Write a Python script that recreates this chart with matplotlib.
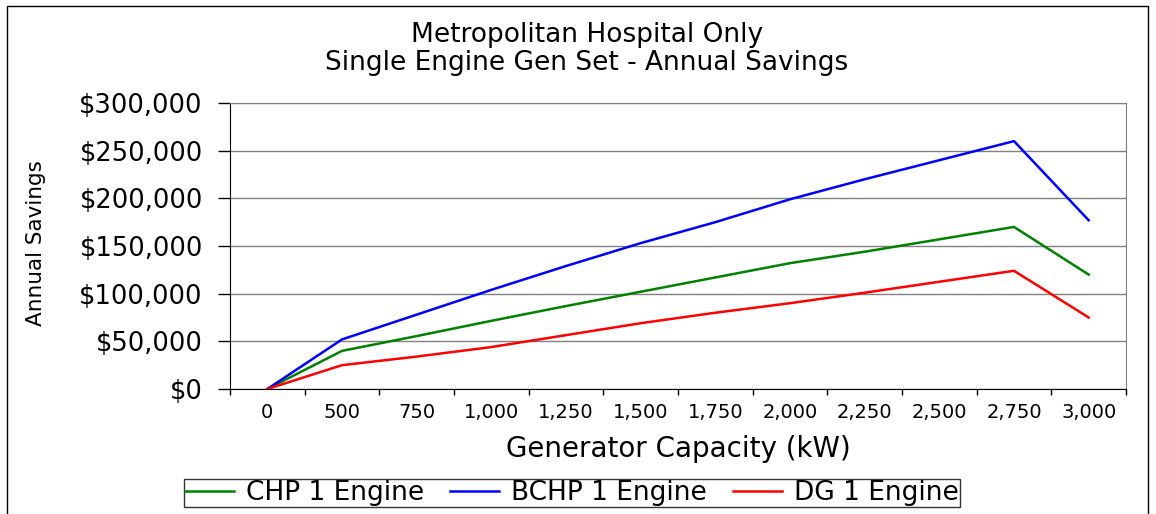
"""Metropolitan Hospital single engine gen set - annual savings line chart"""
import matplotlib
matplotlib.use("Agg")
import matplotlib.pyplot as plt
from matplotlib.patches import Rectangle
from matplotlib.ticker import FuncFormatter, FixedLocator

capacity = ["0", "500", "750", "1,000", "1,250", "1,500", "1,750",
            "2,000", "2,250", "2,500", "2,750", "3,000"]
chp = [0, 40000, 55500, 71500, 87000, 102000, 117000, 132000,
       144000, 157000, 170000, 120000]
bchp = [0, 52000, 78000, 104000, 129000, 153000, 175000, 199000,
        220000, 240000, 260000, 177000]
dg = [0, 25000, 34000, 44000, 56500, 69000, 80000, 90000,
      101000, 112500, 124000, 75000]

plt.rcParams['font.family'] = 'DejaVu Sans'

fig = plt.figure(figsize=(11.56, 5.14), dpi=100)
ax = fig.add_axes([230 / 1156, 1 - 389 / 514, 896 / 1156, 286 / 514])

x = list(range(len(capacity)))
ax.plot(x, chp, color='#008000', lw=1.8, label='CHP 1 Engine')
ax.plot(x, bchp, color='#0000FF', lw=1.8, label='BCHP 1 Engine')
ax.plot(x, dg, color='#FF0000', lw=1.8, label='DG 1 Engine')

ax.set_xlim(-0.5, len(capacity) - 0.5)
ax.set_ylim(0, 300000)
ax.set_yticks(range(0, 300001, 50000))
ax.yaxis.set_major_formatter(FuncFormatter(lambda v, p: "${:,.0f}".format(v)))
ax.set_xticks(x)
ax.set_xticklabels(capacity)
ax.xaxis.set_minor_locator(FixedLocator([i - 0.5 for i in range(len(capacity) + 1)]))

ax.tick_params(axis='y', direction='out', length=8.6, width=1, pad=11, labelsize=18.5)
ax.tick_params(axis='x', which='major', length=0, pad=10, labelsize=14)
ax.tick_params(axis='x', which='minor', direction='out', length=4.3, width=1)

ax.grid(axis='y', color='#808080', lw=1.0)
ax.set_axisbelow(True)
for s in ['top', 'right']:
    ax.spines[s].set_color('#808080')
for s in ['left', 'bottom']:
    ax.spines[s].set_color('black')

ax.set_xlabel('Generator Capacity (kW)', fontsize=20)
ax.xaxis.set_label_coords(0.5, -0.16)
ax.set_ylabel('Annual Savings', fontsize=15.5)
ax.yaxis.set_label_coords(-0.205, 0.51)

fig.text(587 / 1156, 1 - 49 / 514,
         'Metropolitan Hospital Only\nSingle Engine Gen Set - Annual Savings',
         ha='center', va='center', fontsize=19, linespacing=1.12)

leg = fig.legend(loc='center', bbox_to_anchor=(572 / 1156, 1 - 493 / 514),
                 ncol=3, fontsize=19, frameon=True, fancybox=False,
                 handlelength=1.85, handletextpad=0.45, columnspacing=1.0,
                 borderpad=0.05, borderaxespad=0)
leg.get_frame().set_edgecolor('black')
leg.get_frame().set_linewidth(1.0)

# outer chart border (bottom runs off the picture)
fig.patches.append(Rectangle((7 / 1156, -0.05), (1148 - 7) / 1156, 1.05 - 6 / 514,
                             transform=fig.transFigure, fill=False,
                             edgecolor='black', lw=1.0))

fig.savefig('out.png', dpi=100)
